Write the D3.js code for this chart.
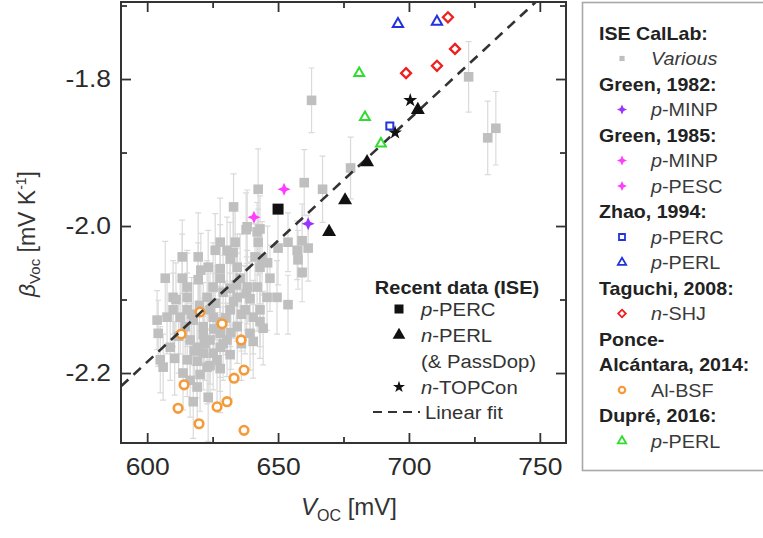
<!DOCTYPE html>
<html><head><meta charset="utf-8">
<script src="https://cdn.jsdelivr.net/npm/d3@7"></script>
<style>body{margin:0;background:#fff} text{font-family:"Liberation Sans",Arial,sans-serif}</style>
</head><body><svg id="c" width="763" height="538"></svg>
<script>
// ---------- data ----------
const xTicksMajor = [600, 650, 700, 750];
const xTicksMinor = [625, 675, 725];
const yTicksMajor = [-1.8, -2.0, -2.2];
const yTicksMinor = [-1.7, -1.9, -2.1];

// ISE CalLab "Various": [Voc mV, beta mV/K, error]
const iseCalLab = [
[662.8,-1.829,0.044],[722.8,-1.797,0.048],[730.1,-1.880,0.050],[733.2,-1.867,0.050],[677.7,-1.921,0.042],[667.0,-1.950,0.045],[660.0,-1.941,0.045],[642.4,-1.950,0.055],[633.0,-1.974,0.045],[638.2,-2.001,0.050],
[637.8,-2.005,0.05],[642.0,-2.008,0.04],[643.1,-2.004,0.045],
[627.9,-2.022,0.06],[633.6,-2.022,0.05],[642.4,-2.022,0.045],[653.8,-2.022,0.04],[659.2,-2.020,0.05],
[626.0,-2.033,0.05],[630.5,-2.033,0.045],[632.8,-2.036,0.06],[657.3,-2.033,0.04],[661.5,-2.030,0.045],
[613.4,-2.042,0.05],[619.5,-2.042,0.06],[631.7,-2.045,0.05],[641.2,-2.042,0.045],[643.9,-2.044,0.05],[657.6,-2.046,0.04],
[623.3,-2.056,0.05],[627.9,-2.058,0.06],[634.4,-2.056,0.045],[643.1,-2.056,0.05],
[659.2,-2.063,0.04],
[606.9,-2.071,0.05],[613.4,-2.071,0.06],[619.5,-2.073,0.05],[627.9,-2.071,0.05],[635.5,-2.071,0.06],[646.9,-2.071,0.045],
[615.3,-2.083,0.05],[625.2,-2.083,0.06],[631.7,-2.085,0.05],[638.2,-2.083,0.05],[642.0,-2.083,0.06],
[609.9,-2.097,0.05],[615.3,-2.097,0.06],[622.9,-2.097,0.05],[634.4,-2.097,0.06],[639.3,-2.099,0.05],[645.8,-2.097,0.045],[649.6,-2.097,0.05],
[653.8,-2.107,0.04],
[609.9,-2.114,0.05],[615.3,-2.114,0.05],[624.0,-2.114,0.06],[631.7,-2.114,0.05],[637.4,-2.114,0.06],[643.1,-2.114,0.05],
[607.6,-2.124,0.05],[612.6,-2.124,0.05],[625.2,-2.124,0.06],[640.5,-2.124,0.05],
[603.8,-2.128,0.04],[617.6,-2.128,0.05],[627.9,-2.130,0.06],[643.1,-2.130,0.05],
[614.5,-2.137,0.05],[621.4,-2.137,0.06],[634.4,-2.137,0.05],[644.3,-2.139,0.05],
[604.2,-2.146,0.045],[621.4,-2.148,0.05],[627.9,-2.146,0.06],[639.3,-2.146,0.05],
[616.4,-2.155,0.05],[624.0,-2.155,0.06],[630.5,-2.155,0.05],[640.5,-2.157,0.05],
[608.8,-2.165,0.045],[619.1,-2.165,0.05],[627.9,-2.165,0.06],
[621.4,-2.173,0.05],[625.2,-2.173,0.05],[631.7,-2.175,0.06],
[605.0,-2.182,0.045],[615.3,-2.182,0.05],[619.1,-2.184,0.05],[626.7,-2.182,0.06],
[606.1,-2.192,0.045],[622.9,-2.192,0.05],[627.9,-2.194,0.06],
[613.7,-2.200,0.05],[620.2,-2.202,0.05],
[616.4,-2.210,0.05],[619.1,-2.219,0.05],[623.3,-2.233,0.06],[617.6,-2.239,0.05],
[629.0,-2.090,0.05],[636.0,-2.120,0.05],[632.0,-2.145,0.05],[626.0,-2.105,0.05],[638.0,-2.092,0.05],[633.0,-2.103,0.05],
[620.0,-2.108,0.05],[629.0,-2.160,0.05],[636.0,-2.160,0.05],[612.0,-2.150,0.05],[618.0,-2.170,0.05],[624.0,-2.190,0.05],
[611.0,-2.100,0.05],[646.0,-2.050,0.05],[650.0,-2.030,0.05],[620.5,-2.060,0.05],[617.0,-2.120,0.05],[630.0,-2.125,0.05],
[622.0,-2.160,0.05],[634.0,-2.080,0.05],[610.5,-2.180,0.05],[625.5,-2.140,0.05]
];
const green1982MINP = [[661.5,-1.997]];
const green1985MINP = [[640.8,-1.988]];
const green1985PESC = [[652.3,-1.950]];
const zhaoPERC = [[692.7,-1.864]];
const zhaoPERL = [[695.8,-1.725],[710.7,-1.722]];
const taguchiSHJ = [[714.9,-1.716],[717.6,-1.759],[710.7,-1.782],[698.9,-1.792]];
const ponceAlBSF = [[620.2,-2.117],[613.0,-2.147],[628.6,-2.133],[635.9,-2.155],[637.0,-2.196],[633.2,-2.207],
                    [614.1,-2.216],[611.8,-2.248],[626.7,-2.246],[630.5,-2.239],[619.8,-2.269],[637.0,-2.278]];
const duprePERL = [[681.0,-1.792],[683.2,-1.852],[689.3,-1.888]];
const recentPERC = [[650.0,-1.977]];
const recentPERL = [[669.5,-2.008],[675.6,-1.965],[684.0,-1.913],[703.4,-1.842]];
const recentTOPCon = [[700.5,-1.829],[694.7,-1.873]];
const fitSlope = 0.0033, fitIntercept = -4.165;
const xDomain = [590, 760], yDomain = [-2.2952, -1.6952];

// ---------- setup ----------
const svg = d3.select("#c");
const L = 121, R = 566, T = 2, B = 443;
const x = d3.scaleLinear(xDomain, [L, R]);
const y = d3.scaleLinear(yDomain, [B, T]);
const axisCol = "#333";
const COL = {gray:"#bfbfbf", err:"#dadada", black:"#111", purple:"#9933ff", magenta:"#ff3dff",
             blue:"#2233dd", red:"#ee2020", orange:"#f59a38", green:"#2fdc2f"};

svg.append("clipPath").attr("id","clip").append("rect").attr("x",L).attr("y",T).attr("width",R-L).attr("height",B-T);
const plot = svg.append("g").attr("clip-path","url(#clip)");

function star4(r, w){
  return `M0,${-r}L${w},${-w}L${r},0L${w},${w}L0,${r}L${-w},${w}L${-r},0L${-w},${-w}Z`;
}
const sym = (t, s) => d3.symbol().type(t).size(s)();

// error bars
const eb = plot.append("g").attr("stroke", COL.err).attr("stroke-width", 1.2).attr("fill","none");
iseCalLab.forEach(d => {
  const x0 = x(d[0]), y1 = y(d[1]-d[2]), y2 = y(d[1]+d[2]);
  eb.append("path").attr("d", `M${x0},${y1}V${y2}M${x0-3},${y1}H${x0+3}M${x0-3},${y2}H${x0+3}`);
});
// gray squares
plot.append("g").selectAll("rect").data(iseCalLab).join("rect")
  .attr("x", d => x(d[0])-4.8).attr("y", d => y(d[1])-4.8).attr("width",9.6).attr("height",9.6)
  .attr("fill", COL.gray);

// orange circles
plot.append("g").selectAll("circle").data(ponceAlBSF).join("circle")
  .attr("cx", d => x(d[0])).attr("cy", d => y(d[1])).attr("r", 4.3)
  .attr("fill","#fff").attr("stroke", COL.orange).attr("stroke-width", 2.6);

// fit line
plot.append("line").attr("x1", x(590)).attr("y1", y(fitSlope*590+fitIntercept))
  .attr("x2", x(760)).attr("y2", y(fitSlope*760+fitIntercept))
  .attr("stroke","#333").attr("stroke-width",2.6).attr("stroke-dasharray","10,7");

function drawPts(data, path, attrs){
  const g = plot.append("g");
  data.forEach(d => {
    const p = g.append("path").attr("d", path).attr("transform", `translate(${x(d[0])},${y(d[1])})`);
    Object.entries(attrs).forEach(([k,v]) => p.attr(k, v));
  });
}
drawPts(green1982MINP, star4(6.5,2), {fill: COL.purple});
drawPts(green1985MINP, star4(6.5,2), {fill: COL.magenta});
drawPts(green1985PESC, star4(6.5,2), {fill: COL.magenta});
drawPts(duprePERL, sym(d3.symbolTriangle, 42), {fill:"#fff", stroke: COL.green, "stroke-width": 2});
drawPts(zhaoPERL, sym(d3.symbolTriangle, 46), {fill:"#fff", stroke: COL.blue, "stroke-width": 2});
drawPts(zhaoPERC, "M-3.5,-3.5H3.5V3.5H-3.5Z", {fill:"#fff", stroke: COL.blue, "stroke-width": 2});
drawPts(taguchiSHJ, "M0,-5L5,0L0,5L-5,0Z", {fill:"#fff", stroke: COL.red, "stroke-width": 2.3});
drawPts(recentPERC, "M-5.5,-5.5H5.5V5.5H-5.5Z", {fill: COL.black});
drawPts(recentPERL, sym(d3.symbolTriangle, 85), {fill: COL.black});
drawPts(recentTOPCon, sym(d3.symbolStar, 60), {fill: COL.black});

// ---------- axes ----------
const fmt = d => d.toFixed(0);
const gx = svg.append("g").attr("transform",`translate(0,${B})`)
  .call(d3.axisBottom(x).tickValues(xTicksMajor).tickSizeInner(-10).tickSizeOuter(0).tickPadding(16).tickFormat(fmt));
const gx2 = svg.append("g").attr("transform",`translate(0,${B})`)
  .call(d3.axisBottom(x).tickValues(xTicksMinor).tickSizeInner(-6).tickSizeOuter(0).tickFormat(""));
const gxt = svg.append("g").attr("transform",`translate(0,${T})`)
  .call(d3.axisTop(x).tickValues(xTicksMajor).tickSizeInner(-10).tickSizeOuter(0).tickFormat(""));
const gxt2 = svg.append("g").attr("transform",`translate(0,${T})`)
  .call(d3.axisTop(x).tickValues(xTicksMinor).tickSizeInner(-6).tickSizeOuter(0).tickFormat(""));
const gy = svg.append("g").attr("transform",`translate(${L},0)`)
  .call(d3.axisLeft(y).tickValues(yTicksMajor).tickSizeInner(-10).tickSizeOuter(0).tickPadding(10).tickFormat(d => d.toFixed(1)));
const gy2 = svg.append("g").attr("transform",`translate(${L},0)`)
  .call(d3.axisLeft(y).tickValues(yTicksMinor).tickSizeInner(-6).tickSizeOuter(0).tickFormat(""));
const gyr = svg.append("g").attr("transform",`translate(${R},0)`)
  .call(d3.axisRight(y).tickValues(yTicksMajor).tickSizeInner(-10).tickSizeOuter(0).tickFormat(""));
const gyr2 = svg.append("g").attr("transform",`translate(${R},0)`)
  .call(d3.axisRight(y).tickValues(yTicksMinor).tickSizeInner(-6).tickSizeOuter(0).tickFormat(""));
[gx,gx2,gxt,gxt2,gy,gy2,gyr,gyr2].forEach(g => {
  g.select(".domain").remove();
  g.selectAll("line").attr("stroke", axisCol).attr("stroke-width", 1.8);
  g.selectAll("text").attr("fill","#2a2a2a").attr("font-size",23).attr("font-family",'"Liberation Sans",Arial,sans-serif');
});
gx.selectAll("text").attr("transform","scale(1.15,1)");
gy.selectAll("text").attr("x", -10/1.15).attr("transform","scale(1.15,1)");

svg.append("rect").attr("x",L).attr("y",T).attr("width",R-L).attr("height",B-T)
  .attr("fill","none").attr("stroke",axisCol).attr("stroke-width",2);

// axis titles
const yl = svg.append("text").attr("transform","translate(35,234) rotate(-90)")
  .attr("text-anchor","middle").attr("font-size",23).attr("fill","#333");
yl.append("tspan").attr("font-style","italic").text("β");
yl.append("tspan").attr("font-size",15).attr("dy",5).text("Voc");
yl.append("tspan").attr("dy",-5).text(" [mV K");
yl.append("tspan").attr("font-size",14).attr("dy",-9).text("-1");
yl.append("tspan").attr("dy",9).text("]");

const xl = svg.append("text").attr("x",349).attr("y",515).attr("text-anchor","middle")
  .attr("font-size",24).attr("fill","#333");
xl.append("tspan").attr("font-style","italic").text("V");
xl.append("tspan").attr("font-size",16).attr("dy",6).text("OC");
xl.append("tspan").attr("dy",-6).text(" [mV]");

// ---------- inner legend ----------
function stext(parent, tx, ty, size, sx){
  return parent.append("text").attr("transform",`translate(${tx},${ty}) scale(${sx},1)`).attr("font-size",size);
}
const il = svg.append("g");
stext(il, 457, 294, 18.5, 1.08).attr("text-anchor","middle").attr("font-weight","bold").attr("fill","#222").text("Recent data (ISE)");
const ilRows = [
  {mark:"M-4.5,-4.5H4.5V4.5H-4.5Z", it:"p", rest:"-PERC"},
  {mark:sym(d3.symbolTriangle, 70), it:"n", rest:"-PERL"},
  {mark:null, it:"", rest:"(& PassDop)"},
  {mark:sym(d3.symbolStar, 45), it:"n", rest:"-TOPCon"}
];
ilRows.forEach((r,i) => {
  const cy = 309 + i*26;
  if (r.mark) il.append("path").attr("d", r.mark).attr("transform",`translate(399,${cy})`).attr("fill","#111");
  const t = stext(il, 421, cy+7, 19, 1.07).attr("fill","#333");
  if (r.it) t.append("tspan").attr("font-style","italic").text(r.it);
  t.append("tspan").text(r.rest);
});
il.append("line").attr("x1",373).attr("x2",420).attr("y1",412).attr("y2",412)
  .attr("stroke","#333").attr("stroke-width",2.2).attr("stroke-dasharray","9,6");
stext(il, 425, 419, 19, 1.07).attr("fill","#333").text("Linear fit");

// ---------- right legend ----------
svg.append("rect").attr("x",582.5).attr("y",2.5).attr("width",190).attr("height",468)
  .attr("fill","#fff").attr("stroke","#a8a8a8").attr("stroke-width",1.6);
const lg = svg.append("g");
const legendRows = [
  {h:"ISE CalLab:"},
  {m:"M-2.6,-2.6H2.6V2.6H-2.6Z", f:COL.gray, s:null, it:"Various", rest:""},
  {h:"Green, 1982:"},
  {m:star4(5,1.6), f:COL.purple, s:null, it:"p", rest:"-MINP"},
  {h:"Green, 1985:"},
  {m:star4(5,1.6), f:COL.magenta, s:null, it:"p", rest:"-MINP"},
  {m:star4(5,1.6), f:COL.magenta, s:null, it:"p", rest:"-PESC"},
  {h:"Zhao, 1994:"},
  {m:"M-3,-3H3V3H-3Z", f:"#fff", s:COL.blue, it:"p", rest:"-PERC"},
  {m:sym(d3.symbolTriangle, 30), f:"#fff", s:COL.blue, it:"p", rest:"-PERL"},
  {h:"Taguchi, 2008:"},
  {m:"M0,-3.8L3.8,0L0,3.8L-3.8,0Z", f:"#fff", s:COL.red, it:"n", rest:"-SHJ"},
  {h:"Ponce-"},
  {h:"Alcántara, 2014:"},
  {c:true, s:COL.orange, it:"", rest:"Al-BSF"},
  {h:"Dupré, 2016:"},
  {m:sym(d3.symbolTriangle, 30), f:"#fff", s:COL.green, it:"p", rest:"-PERL"}
];
legendRows.forEach((r,i) => {
  const cy = 33 + i*25.5;
  if (r.h) {
    stext(lg, 599, cy+6.5, 18.5, 1.06).attr("font-weight","bold").attr("fill","#222").text(r.h);
    return;
  }
  if (r.c) {
    lg.append("circle").attr("cx",622).attr("cy",cy).attr("r",3.2).attr("fill","#fff").attr("stroke",r.s).attr("stroke-width",2.2);
  } else {
    const p = lg.append("path").attr("d",r.m).attr("transform",`translate(622,${cy})`).attr("fill",r.f);
    if (r.s) p.attr("stroke",r.s).attr("stroke-width",1.8);
  }
  const t = stext(lg, 651, cy+6.5, 18.5, 1.07).attr("fill","#3a3a3a");
  if (r.it) t.append("tspan").attr("font-style","italic").text(r.it);
  if (r.rest) t.append("tspan").text(r.rest);
});
</script></body></html>
